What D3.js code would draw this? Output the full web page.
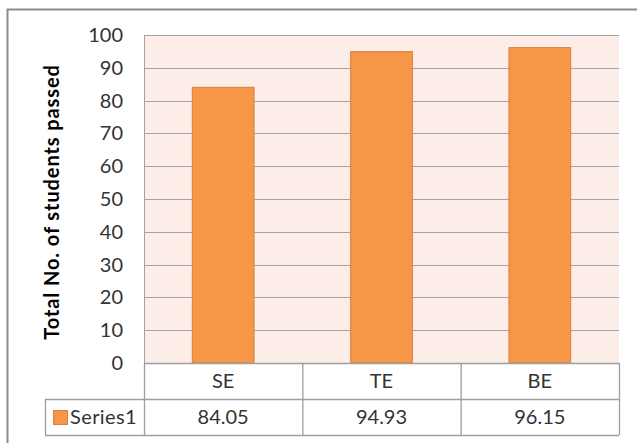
<!DOCTYPE html>
<html>
<head>
<meta charset="utf-8">
<script src="https://cdn.jsdelivr.net/npm/d3@7"></script>
<style>
  body { margin: 0; background: #fff; }
  svg { display: block; font-family: Lato, "Open Sans", sans-serif; }
</style>
</head>
<body>
<script>
var categories = ["SE", "TE", "BE"]
var values = [84.05, 94.93, 96.15]
var seriesName = "Series1"
var yTicks = [0, 10, 20, 30, 40, 50, 60, 70, 80, 90, 100]

var width = 637, height = 443
var plot = { left: 144, right: 619, top: 35, bottom: 363 }
var rowH = 36
var fs = 20

var svg = d3.select("body").append("svg")
    .attr("width", width)
    .attr("height", height)

// chart frame (cropped at right/bottom)
svg.append("rect")
    .attr("x", 7.5).attr("y", 9.5)
    .attr("width", 700).attr("height", 500)
    .attr("fill", "none")
    .attr("stroke", "#8c8c8c")
    .attr("stroke-width", 2)

var x = d3.scaleBand()
    .domain(categories)
    .range([plot.left, plot.right])
    .paddingInner(0.61)
    .paddingOuter(0.305)

var xCol = d3.scaleBand()
    .domain(categories)
    .range([plot.left, plot.right])

var y = d3.scaleLinear()
    .domain([0, 100])
    .range([plot.bottom, plot.top])

svg.append("rect")
    .attr("x", plot.left).attr("y", plot.top)
    .attr("width", plot.right - plot.left)
    .attr("height", plot.bottom - plot.top)
    .attr("fill", "#fcede8")

// gridlines
svg.append("g").selectAll("line")
    .data(yTicks)
    .enter()
  .append("line")
    .attr("x1", plot.left).attr("x2", plot.right)
    .attr("y1", function (d) { return Math.round(y(d)) + 0.5 })
    .attr("y2", function (d) { return Math.round(y(d)) + 0.5 })
    .attr("stroke", "#a3a3a3")
    .attr("stroke-width", 1.2)

svg.append("line")
    .attr("x1", plot.left + 0.5).attr("x2", plot.left + 0.5)
    .attr("y1", plot.top).attr("y2", plot.bottom)
    .attr("stroke", "#a3a3a3")

// bars
svg.append("g").selectAll("rect")
    .data(values)
    .enter()
  .append("rect")
    .attr("x", function (d, i) { return x(categories[i]) })
    .attr("y", function (d) { return y(d) })
    .attr("width", x.bandwidth())
    .attr("height", function (d) { return y(0) - y(d) })
    .attr("fill", "#f79646")
    .attr("stroke", "#d9803a")
    .attr("stroke-width", 1)

// y tick labels
svg.append("g").selectAll("text")
    .data(yTicks)
    .enter()
  .append("text")
    .attr("x", 123)
    .attr("y", function (d) { return y(d) })
    .attr("dy", "0.35em")
    .attr("text-anchor", "end")
    .attr("font-size", fs)
    .attr("fill", "#333")
    .text(function (d) { return d })

// axis title
svg.append("text")
    .attr("transform", "translate(59," + ((plot.top + plot.bottom) / 2 + 3) + ") rotate(-90)")
    .attr("text-anchor", "middle")
    .attr("font-size", fs)
    .attr("font-weight", "bold")
    .attr("letter-spacing", 0.9)
    .attr("fill", "#000")
    .text("Total No. of students passed")

// data table
var table = svg.append("g")
var tl = 45, r1 = plot.bottom, r2 = plot.bottom + rowH, r3 = plot.bottom + 2 * rowH
var gridCol = "#9e9e9e"
function hline(x1, x2, yy) {
  table.append("line").attr("x1", x1).attr("x2", x2).attr("y1", yy + 0.5).attr("y2", yy + 0.5)
    .attr("stroke", gridCol).attr("stroke-width", 1.3)
}
function vline(xx, y1, y2) {
  table.append("line").attr("x1", xx + 0.5).attr("x2", xx + 0.5).attr("y1", y1).attr("y2", y2)
    .attr("stroke", gridCol).attr("stroke-width", 1.3)
}
hline(plot.left, plot.right, r1)
hline(tl, plot.right, r2)
hline(tl, plot.right, r3)
vline(tl, r2, r3)
vline(plot.left, r1, r3)
categories.forEach(function (c) { vline(xCol(c) + xCol.bandwidth(), r1, r3) })

table.selectAll("text.cat")
    .data(categories)
    .enter()
  .append("text")
    .attr("class", "cat")
    .attr("x", function (d) { return xCol(d) + xCol.bandwidth() / 2 })
    .attr("y", r1 + rowH / 2)
    .attr("dy", "0.35em")
    .attr("text-anchor", "middle")
    .attr("font-size", fs)
    .attr("fill", "#333")
    .text(function (d) { return d })

table.selectAll("text.val")
    .data(values)
    .enter()
  .append("text")
    .attr("class", "val")
    .attr("x", function (d, i) { return xCol(categories[i]) + xCol.bandwidth() / 2 })
    .attr("y", r2 + rowH / 2)
    .attr("dy", "0.35em")
    .attr("text-anchor", "middle")
    .attr("font-size", fs)
    .attr("fill", "#333")
    .text(function (d) { return d.toFixed(2) })

table.append("rect")
    .attr("x", 53.5).attr("y", r2 + 11.5)
    .attr("width", 14).attr("height", 14)
    .attr("fill", "#f79646")
    .attr("stroke", "#d9803a")

table.append("text")
    .attr("x", 70)
    .attr("y", r2 + rowH / 2)
    .attr("dy", "0.35em")
    .attr("font-size", fs)
    .attr("letter-spacing", 0.4)
    .attr("fill", "#333")
    .text(seriesName)
</script>
</body>
</html>
